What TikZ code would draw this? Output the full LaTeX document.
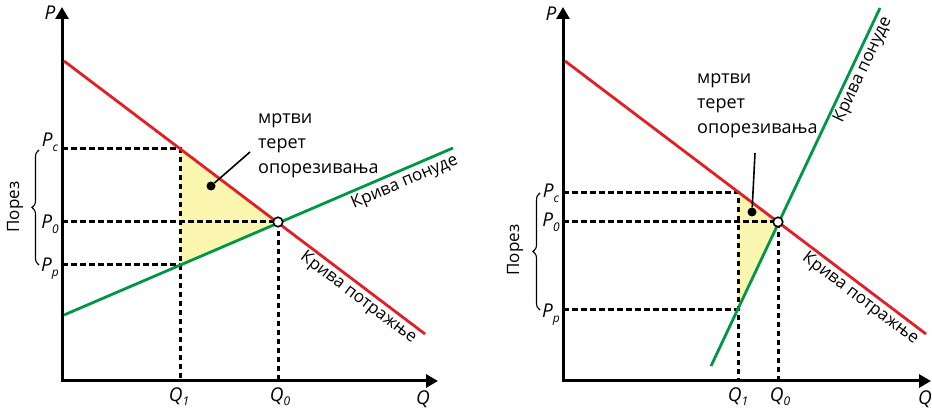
\documentclass[tikz,border=0pt]{standalone}
\usepackage{fontspec}
\setmainfont{Open Sans}
\usetikzlibrary{arrows.meta,decorations.pathreplacing}
\definecolor{dred}{RGB}{226,30,38}
\definecolor{sgreen}{RGB}{0,150,70}
\definecolor{dwl}{RGB}{250,245,175}
\newcommand\lowsub[1]{\smash{\raisebox{-4.5pt}{\fontsize{12}{12}\selectfont\itshape #1}}}
\tikzset{
 axis/.style={line width=3pt,line join=miter,{Triangle[length=12pt,width=13pt]}-{Triangle[length=12pt,width=13pt]}},
 demand/.style={dred,line width=2.8pt},
 supply/.style={sgreen,line width=2.8pt},
 guide/.style={line width=3pt,dash pattern=on 5.5pt off 3.5pt},
 lbl/.style={font=\fontsize{19}{20}\selectfont\itshape, inner sep=0pt},
 txt/.style={font=\fontsize{18}{25}\selectfont, align=left, inner sep=0pt},
 curvelbl/.style={font=\fontsize{17}{20}\selectfont, inner sep=2.5pt},
 eqpt/.style={circle,draw,fill=white,line width=1.6pt,minimum size=9.5pt,inner sep=0pt},
 blackdot/.style={circle,fill,minimum size=9pt,inner sep=0pt},
 brc/.style={decorate,decoration={brace,amplitude=7pt},line width=1.1pt},
 pointer/.style={line width=1.6pt},
}
\begin{document}
\begin{tikzpicture}[x=1pt,y=-1pt]
\useasboundingbox (0,0) rectangle (932,411);
% ---------- left panel ----------
\coordinate (O1) at (62,381);
\coordinate (Yt1) at (62,7);
\coordinate (Xe1) at (438,381);
\coordinate (Da1) at (64,61);
\coordinate (Db1) at (425,334);
\coordinate (Sa1) at (64,315);
\coordinate (Sb1) at (453,148);
\coordinate (C1) at (180,149);
\coordinate (R1) at (180,265);
\coordinate (E1c) at (278,222);
\coordinate (yc1) at (62,149);
\coordinate (y01) at (62,222);
\coordinate (yp1) at (62,265);
\coordinate (q11) at (180,381);
\coordinate (q01) at (278,381);
\fill[dwl] (C1) -- (E1c) -- (R1) -- cycle;
\draw[guide] (yc1) -- (C1) -- (q11);
\draw[guide] (y01) -- (E1c) -- (q01);
\draw[guide] (yp1) -- (R1);
\draw[axis] (Yt1) -- (O1) -- (Xe1);
\draw[supply] (Sa1) -- (Sb1);
\draw[demand] (Da1) -- (Db1);
\node[eqpt] (E1) at (E1c) {};
\node[lbl] (P1) at (50,13) {P};
\node[lbl] (Q1ax) at (423,399) {Q};
\node[lbl] (Pc1) at (50,140) {P\lowsub{c}};
\node[lbl] (P01) at (50,222) {P\lowsub{0}};
\node[lbl] (Pp1) at (50,265) {P\lowsub{p}};
\node[lbl] (Q11) at (179,396) {Q\lowsub{1}};
\node[lbl] (Q01) at (280,396) {Q\lowsub{0}};
\draw[brc] (39,265) -- (39,150);
\node[curvelbl,rotate=90] (tax1) at (15,207) {Порез};
\node[txt,anchor=west] (dw1) at (258,146) {мртви\\терет\\опорезивања};
\node[blackdot] (dot1) at (211,186) {};
\coordinate (pt1) at (250,152);
\draw[pointer] (pt1) -- (dot1);
\node[curvelbl,rotate=23.2,anchor=north,inner sep=4pt] (sl1) at (400,171) {Крива понуде};
\node[curvelbl,rotate=-37.1,anchor=north,inner sep=3pt] (dl1) at (365,289) {Крива потражње};
% ---------- right panel ----------
\coordinate (O2) at (563,381);
\coordinate (Yt2) at (563,7);
\coordinate (Xe2) at (931,381);
\coordinate (Da2) at (565,61);
\coordinate (Db2) at (926,334);
\coordinate (Sa2) at (711,366);
\coordinate (Sb2) at (880,8);
\coordinate (C2) at (738,193);
\coordinate (R2) at (738,310);
\coordinate (E2c) at (778,222);
\coordinate (yc2) at (563,193);
\coordinate (y02) at (563,222);
\coordinate (yp2) at (563,310);
\coordinate (q12) at (738,381);
\coordinate (q02) at (778,381);
\fill[dwl] (C2) -- (E2c) -- (R2) -- cycle;
\draw[guide] (yc2) -- (C2) -- (q12);
\draw[guide] (y02) -- (E2c) -- (q02);
\draw[guide] (yp2) -- (R2);
\draw[axis] (Yt2) -- (O2) -- (Xe2);
\draw[supply] (Sa2) -- (Sb2);
\draw[demand] (Da2) -- (Db2);
\node[eqpt] (E2) at (E2c) {};
\node[lbl] (P2) at (551,14) {P};
\node[lbl] (Q2ax) at (925,399) {Q};
\node[lbl] (Pc2) at (551,191) {P\lowsub{c}};
\node[lbl] (P02) at (551,220) {P\lowsub{0}};
\node[lbl] (Pp2) at (551,311) {P\lowsub{p}};
\node[lbl] (Q12) at (738,396) {Q\lowsub{1}};
\node[lbl] (Q02) at (780,396) {Q\lowsub{0}};
\draw[brc] (540,310) -- (540,193);
\node[curvelbl,rotate=90] (tax2) at (515,250) {Порез};
\node[txt,anchor=west] (dw2) at (697,106) {мртви\\терет\\опорезивања};
\node[blackdot] (dot2) at (752,212) {};
\coordinate (pt2) at (755,153);
\draw[pointer] (pt2) -- (dot2);
\node[curvelbl,rotate=64.7,anchor=north,inner sep=3pt] (sl2) at (853,65) {Крива понуде};
\node[curvelbl,rotate=-37.1,anchor=north,inner sep=3pt] (dl2) at (867,290) {Крива потражње};
\end{tikzpicture}
\end{document}
